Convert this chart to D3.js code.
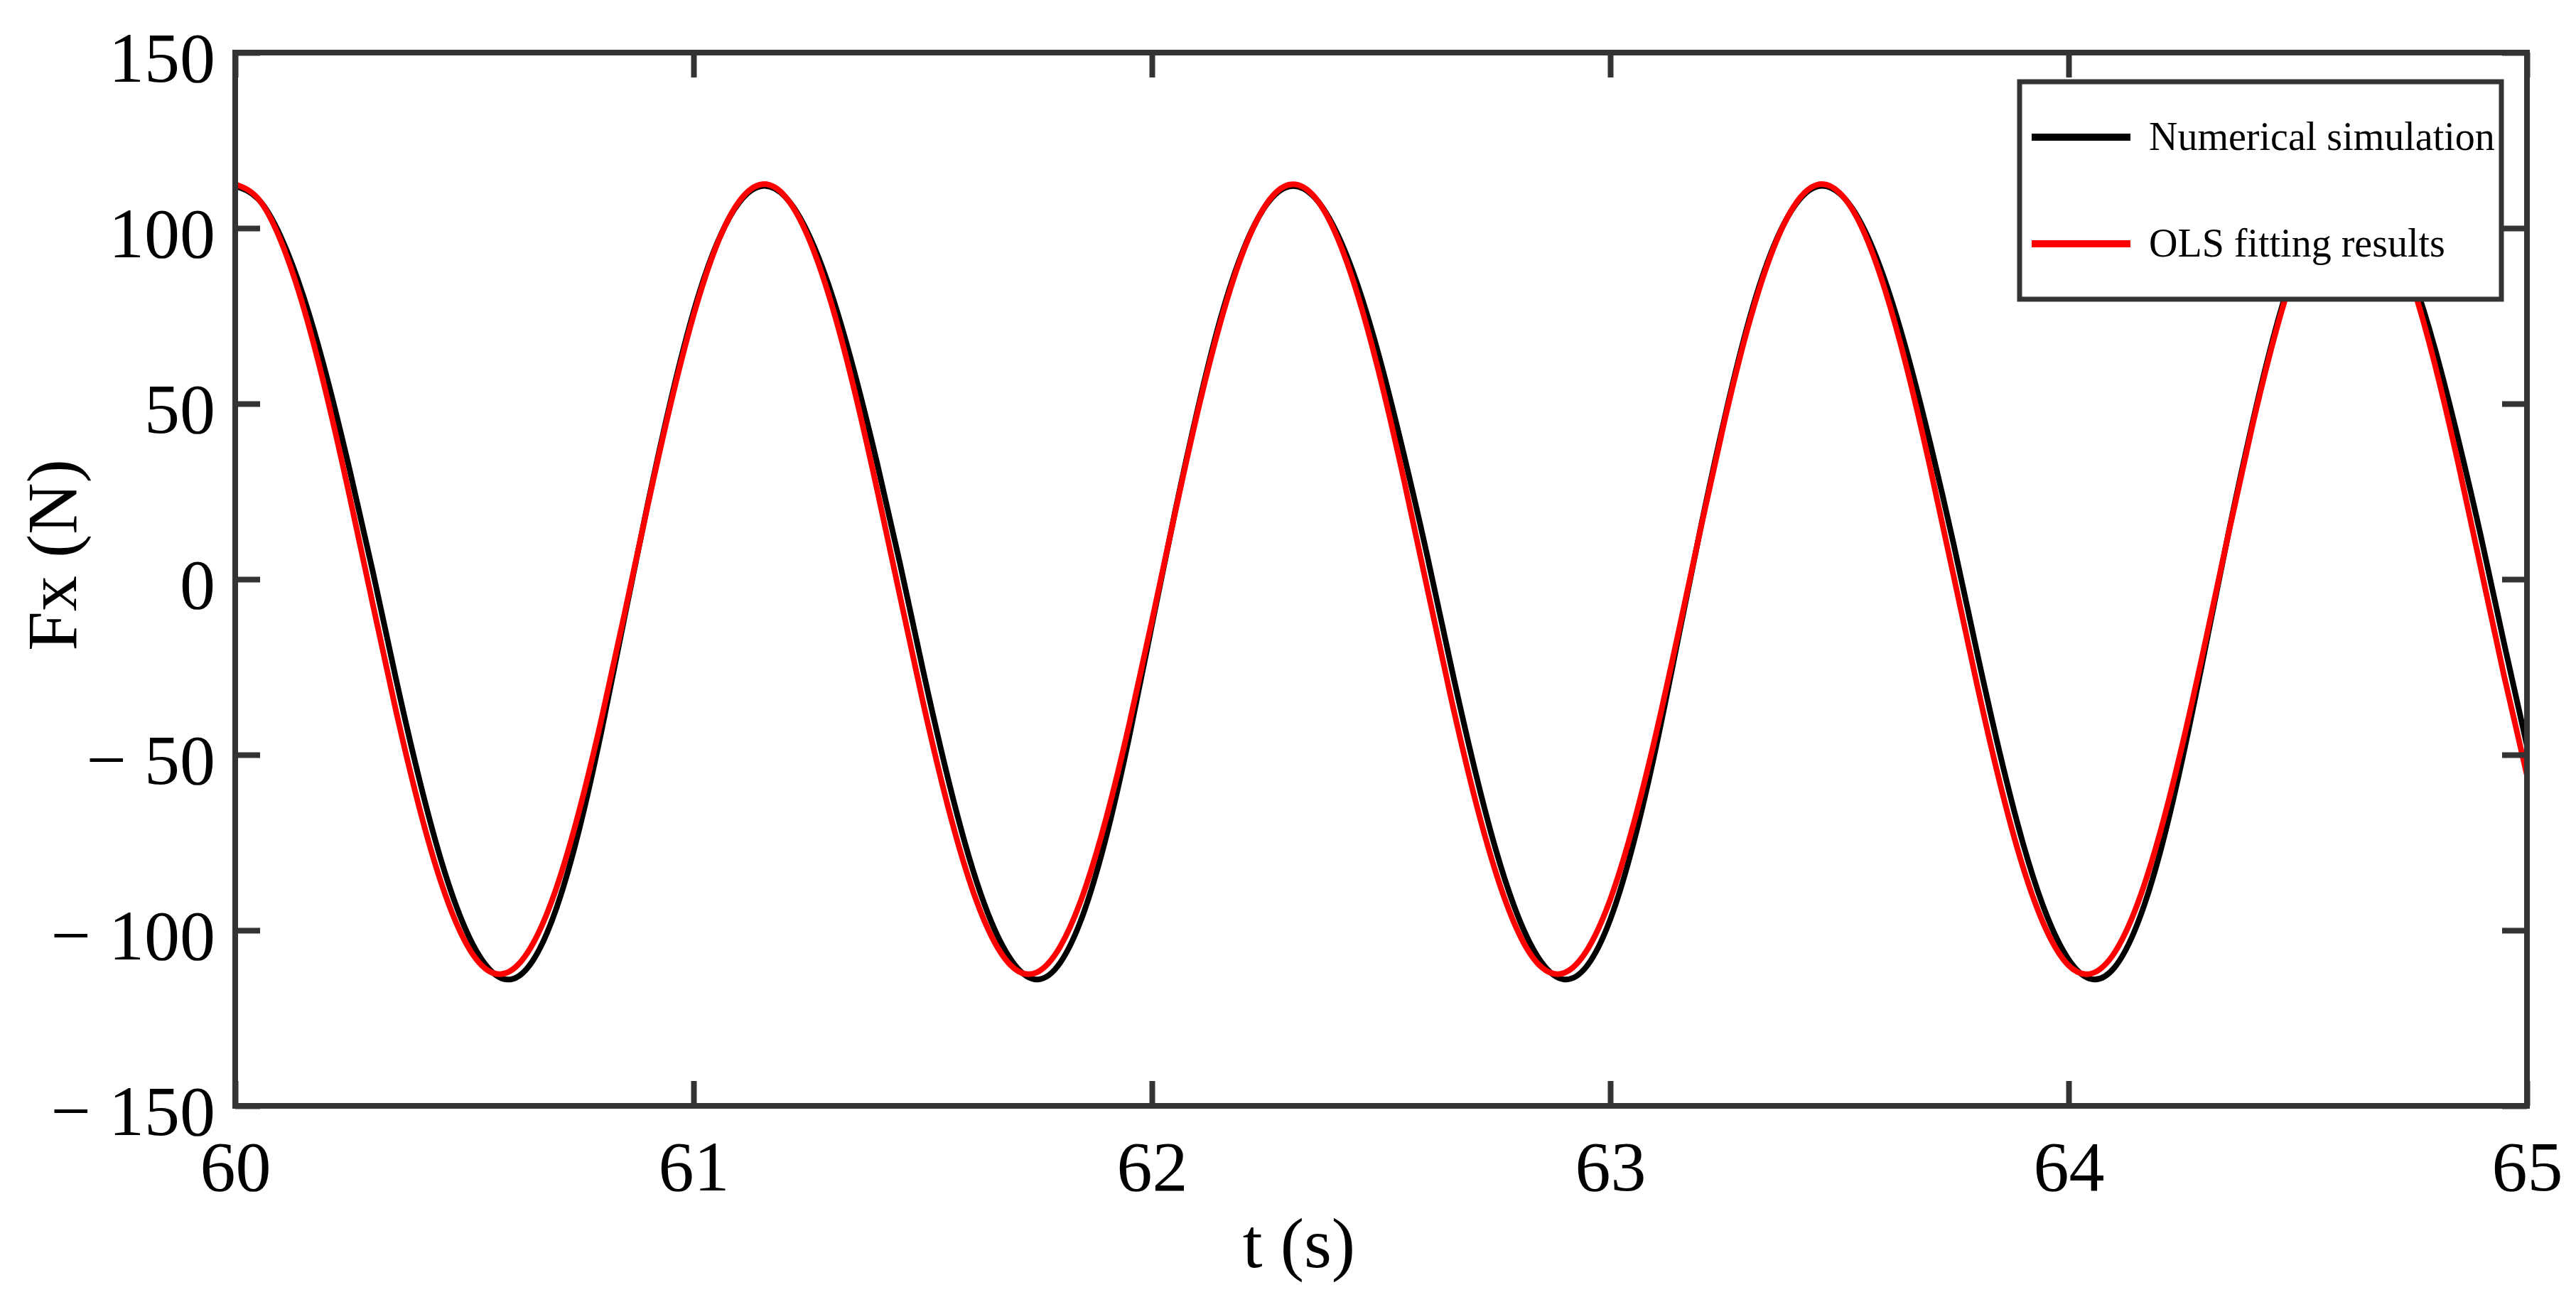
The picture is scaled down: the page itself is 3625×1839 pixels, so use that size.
<!DOCTYPE html>
<html>
<head>
<meta charset="utf-8">
<script src="https://cdn.jsdelivr.net/npm/d3@7"></script>
<style>
  html, body { margin: 0; padding: 0; background: #fff; }
  svg { display: block; font-family: "Liberation Serif", "Times New Roman", serif; }
</style>
</head>
<body>
<svg id="chart"></svg>
<script>
var width = 3625, height = 1839;

// time samples (s)
var time = [60, 60.05, 60.1, 60.15, 60.2, 60.25, 60.3, 60.35, 60.4, 60.45,
    60.5, 60.55, 60.6, 60.65, 60.7, 60.75, 60.8, 60.85, 60.9, 60.95,
    61, 61.05, 61.1, 61.15, 61.2, 61.25, 61.3, 61.35, 61.4, 61.45,
    61.5, 61.55, 61.6, 61.65, 61.7, 61.75, 61.8, 61.85, 61.9, 61.95,
    62, 62.05, 62.1, 62.15, 62.2, 62.25, 62.3, 62.35, 62.4, 62.45,
    62.5, 62.55, 62.6, 62.65, 62.7, 62.75, 62.8, 62.85, 62.9, 62.95,
    63, 63.05, 63.1, 63.15, 63.2, 63.25, 63.3, 63.35, 63.4, 63.45,
    63.5, 63.55, 63.6, 63.65, 63.7, 63.75, 63.8, 63.85, 63.9, 63.95,
    64, 64.05, 64.1, 64.15, 64.2, 64.25, 64.3, 64.35, 64.4, 64.45,
    64.5, 64.55, 64.6, 64.65, 64.7, 64.75, 64.8, 64.85, 64.9, 64.95, 65];

// Fx, numerical simulation (N)
var simValues = [112.0, 108.3, 97.4, 80.1, 57.5, 31.0, 2.3, -27.9, -56.1, -80.4,
    -98.9, -110.4, -114.0, -108.5, -94.0, -71.5, -42.7, -10.4, 21.4, 50.8,
    76.2, 95.3, 107.4, 112.0, 108.9, 98.5, 81.7, 59.4, 33.3, 4.7,
    -25.5, -54.0, -78.7, -97.7, -109.7, -114.0, -109.2, -95.4, -73.5, -45.2,
    -13.0, 18.9, 48.5, 74.4, 94.0, 106.7, 111.9, 109.4, 99.6, 83.3,
    61.4, 35.4, 7.1, -23.1, -51.8, -76.9, -96.4, -109.1, -114.0, -110.0,
    -96.9, -75.5, -47.7, -15.7, 16.4, 46.2, 72.5, 92.7, 105.9, 111.8,
    109.9, 100.7, 84.8, 63.3, 37.7, 9.5, -20.7, -49.6, -75.0, -95.0,
    -108.3, -113.9, -110.6, -98.2, -77.6, -50.1, -18.4, 13.9, 43.9, 70.5,
    91.3, 105.1, 111.6, 110.3, 101.7, 86.3, 65.3, 39.9, 11.9, -18.2, -47.4];

// Fx, OLS fitting results (N)
var olsValues = [112.5, 108.4, 96.2, 77.0, 52.1, 23.4, -7.0, -37.0, -64.2, -86.7,
    -102.8, -111.3, -111.6, -103.7, -88.2, -66.2, -39.3, -9.5, 21.0, 49.9,
    75.2, 95.0, 107.7, 112.5, 109.0, 97.5, 78.8, 54.3, 25.8, -4.6,
    -34.7, -62.2, -85.1, -101.7, -110.9, -111.9, -104.6, -89.7, -68.2, -41.6,
    -11.9, 18.6, 47.8, 73.4, 93.6, 106.9, 112.4, 109.6, 98.7, 80.5,
    56.4, 28.2, -2.1, -32.3, -60.1, -83.4, -100.7, -110.5, -112.1, -105.5,
    -91.2, -70.1, -43.9, -14.4, 16.1, 45.5, 71.6, 92.2, 106.1, 112.3,
    110.1, 99.9, 82.2, 58.6, 30.6, 0.4, -29.9, -58.0, -81.8, -99.5,
    -110.0, -112.3, -106.4, -92.6, -72.0, -46.1, -16.8, 13.7, 43.2, 69.5,
    90.7, 105.3, 112.1, 110.6, 101.0, 83.9, 60.7, 33.0, 2.8, -27.5, -55.8];

var xTicks = [60, 61, 62, 63, 64, 65];
var yTicks = [-150, -100, -50, 0, 50, 100, 150];
var seriesNames = ["Numerical simulation", "OLS fitting results"];
var seriesColors = ["#000000", "#ff0000"];

var margin = {left: 331, right: width - 3556, top: 74, bottom: height - 1556};
var plotW = width - margin.left - margin.right;
var plotH = height - margin.top - margin.bottom;

var svg = d3.select("#chart")
    .attr("width", width)
    .attr("height", height)
    .attr("viewBox", `0 0 ${width} ${height}`);

var x = d3.scaleLinear().domain([60, 65]).range([0, plotW]);
var y = d3.scaleLinear().domain([-150, 150]).range([plotH, 0]);

var g = svg.append("g")
    .attr("transform", `translate(${margin.left},${margin.top})`);

// curves
var series = [simValues, olsValues];
var line = d3.line()
    .x(d => x(d[0]))
    .y(d => y(d[1]))
    .curve(d3.curveNatural);

series.forEach(function(vals, i) {
    g.append("path")
        .datum(time.map((t, j) => [t, vals[j]]))
        .attr("fill", "none")
        .attr("stroke", seriesColors[i])
        .attr("stroke-width", 8)
        .attr("stroke-linejoin", "round")
        .attr("d", line);
});

function fmtY(d) {
    return d < 0 ? "\u2212 " + Math.abs(d) : String(d);
}

// axes, ticks pointing inward on all four sides
var axisColor = "#333";
var tickLen = 35;

var xAxis = g.append("g")
    .attr("transform", `translate(0,${plotH})`)
    .call(d3.axisBottom(x).tickValues(xTicks).tickFormat(d3.format("d"))
        .tickSizeInner(-tickLen).tickSizeOuter(0).tickPadding(48));
var yAxis = g.append("g")
    .call(d3.axisLeft(y).tickValues(yTicks).tickFormat(fmtY)
        .tickSizeInner(-tickLen).tickSizeOuter(0).tickPadding(28));
var topAxis = g.append("g")
    .call(d3.axisTop(x).tickValues(xTicks).tickFormat("").tickSizeInner(-tickLen).tickSizeOuter(0));
var rightAxis = g.append("g")
    .attr("transform", `translate(${plotW},0)`)
    .call(d3.axisRight(y).tickValues(yTicks).tickFormat("").tickSizeInner(-tickLen).tickSizeOuter(0));

[xAxis, yAxis, topAxis, rightAxis].forEach(function(a) {
    a.select(".domain").remove();
    a.selectAll(".tick line").attr("stroke", axisColor).attr("stroke-width", 8);
    a.selectAll(".tick text")
        .attr("fill", "#000")
        .style("font-family", "'Liberation Serif', 'Times New Roman', serif")
        .style("font-size", "100px");
});
yAxis.selectAll(".tick text").attr("dy", "0.4em");

// frame
g.append("rect")
    .attr("x", 0).attr("y", 0)
    .attr("width", plotW).attr("height", plotH)
    .attr("fill", "none")
    .attr("stroke", axisColor)
    .attr("stroke-width", 8);

// axis titles
svg.append("text")
    .attr("x", 1828).attr("y", 1783)
    .attr("text-anchor", "middle")
    .style("font-size", "100px")
    .text("t (s)");

svg.append("text")
    .attr("transform", "translate(107,781) rotate(-90)")
    .attr("text-anchor", "middle")
    .style("font-size", "100px")
    .text("Fx (N)");

// legend
var legend = svg.append("g").attr("transform", "translate(2842,115)");
legend.append("rect")
    .attr("width", 678).attr("height", 306)
    .attr("fill", "#fff")
    .attr("stroke", axisColor)
    .attr("stroke-width", 7);

var legendRows = [78, 228];
seriesNames.forEach(function(name, i) {
    legend.append("line")
        .attr("x1", 17).attr("x2", 156)
        .attr("y1", legendRows[i]).attr("y2", legendRows[i])
        .attr("stroke", seriesColors[i])
        .attr("stroke-width", 10);
    legend.append("text")
        .attr("x", 182).attr("y", legendRows[i] + 18)
        .style("font-size", "56px")
        .text(name);
});
</script>
</body>
</html>
